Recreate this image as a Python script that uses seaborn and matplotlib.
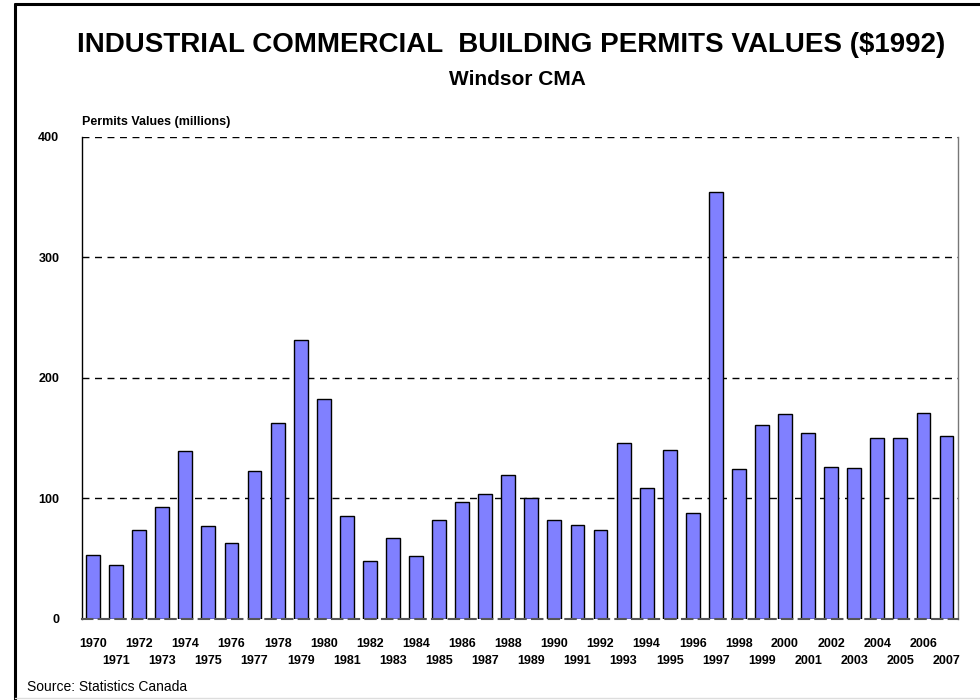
import seaborn as sns
import matplotlib.pyplot as plt
import pandas as pd
from matplotlib.lines import Line2D

# Industrial/commercial building permit values, Windsor CMA ($1992, millions)
years = list(range(1970, 2008))
values = [52.6, 44.3, 73.4, 92.4, 138.9, 76.7, 62.6, 122.3, 162.2, 231.0,
          182.0, 85.0, 47.9, 67.2, 52.3, 81.7, 96.6, 103.5, 119.3, 99.9,
          81.7, 77.9, 73.6, 145.5, 108.7, 140.3, 87.5, 353.9, 124.0, 160.5,
          169.9, 154.1, 126.2, 124.8, 149.7, 149.7, 170.5, 151.6]
y_ticks = [0, 100, 200, 300, 400]

title = "INDUSTRIAL COMMERCIAL  BUILDING PERMITS VALUES ($1992)"
subtitle = "Windsor CMA"
y_label = "Permits Values (millions)"
source = "Source: Statistics Canada"

df = pd.DataFrame({"year": [str(y) for y in years], "value": values})

sns.set_style("white")
plt.rcParams['font.family'] = ['Liberation Sans', 'DejaVu Sans']
plt.rcParams['text.color'] = 'black'
plt.rcParams['xtick.color'] = 'black'
plt.rcParams['ytick.color'] = 'black'

fig = plt.figure(figsize=(9.8, 7), dpi=100)
ax = fig.add_axes([0.0832, 0.1161, 0.8944, 0.6886])

sns.barplot(data=df, x="year", y="value", ax=ax, color="#8080FF",
            edgecolor="black", linewidth=1, width=0.6, saturation=1)

ax.set_ylim(0, 400)
ax.set_xlim(-0.5, len(years) - 0.5)
ax.set_yticks(y_ticks)
ax.set_yticklabels([str(t) for t in y_ticks], fontsize=9, fontweight='bold')
for t in y_ticks[1:]:
    ax.axhline(t, color='black', linestyle=(0, (5, 4)), linewidth=1, zorder=0)

# two staggered rows of year labels: even years on major ticks, odd on minor
pos = list(range(len(years)))
labels = list(df["year"])
ax.set_xticks(pos[0::2])
ax.set_xticklabels(labels[0::2], fontsize=9, fontweight='bold')
ax.set_xticks(pos[1::2], minor=True)
ax.set_xticklabels(labels[1::2], minor=True, fontsize=9, fontweight='bold')
ax.tick_params(axis='x', which='major', length=0, pad=14)
ax.tick_params(axis='x', which='minor', length=0, pad=26)
ax.tick_params(axis='y', length=0, pad=16)
ax.set_xlabel("")
ax.set_ylabel("")

ax.spines['top'].set_visible(False)
ax.spines['left'].set_color('black')
ax.spines['left'].set_linewidth(1)
ax.spines['right'].set_color('#777777')
ax.spines['right'].set_linewidth(1)
ax.spines['bottom'].set_color('#555555')
ax.spines['bottom'].set_linestyle((0, (5, 3)))
ax.spines['bottom'].set_linewidth(1.5)

fig.text(0.522, 0.935, title, ha='center', va='center', fontsize=20, fontweight='bold')
fig.text(0.528, 0.886, subtitle, ha='center', va='center', fontsize=15, fontweight='bold')
fig.text(0.0837, 0.825, y_label, ha='left', va='center', fontsize=9, fontweight='bold')
fig.text(0.0276, 0.018, source, ha='left', va='center', fontsize=10)

# figure frame (left and top)
fig.add_artist(Line2D([15 / 980, 15 / 980], [0, 1 - 4 / 700], color='black', linewidth=2.2))
fig.add_artist(Line2D([15 / 980, 1], [1 - 4 / 700, 1 - 4 / 700], color='black', linewidth=2.2))
fig.add_artist(Line2D([15 / 980, 1], [2 / 700, 2 / 700], color='#dddddd', linewidth=1))

fig.savefig("out.png", dpi=100)
